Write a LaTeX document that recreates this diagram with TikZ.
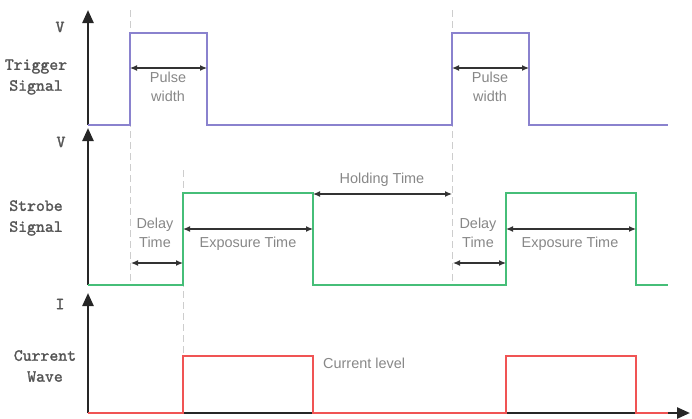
\documentclass[tikz,border=0pt]{standalone}
\usepackage{fontspec}
\setsansfont{Liberation Sans}
\newfontfamily\sigfont[FakeBold=1.6]{lmmono10-regular.otf}
\usepackage{tikz}
\usetikzlibrary{arrows.meta}
\definecolor{trgpurple}{RGB}{138,130,206}
\definecolor{strgreen}{RGB}{70,190,120}
\definecolor{curred}{RGB}{240,84,84}
\definecolor{anngray}{RGB}{135,135,135}
\definecolor{lblgray}{RGB}{85,85,85}
\definecolor{guidegray}{RGB}{205,205,205}

\begin{document}
\begin{tikzpicture}[x=1bp, y=-1bp,
  axis/.style={line width=2.4bp, black!85, -{Triangle[length=13bp,width=11bp]}},
  wave/.style={line width=1.6bp, line join=miter},
  guide/.style={guidegray, line width=0.9bp, dash pattern=on 7bp off 4bp},
  dim/.style={black!80, line width=1.2bp, {Latex[length=7bp,width=6bp]}-{Latex[length=7bp,width=6bp]}},
  ann/.style={font=\sffamily\fontsize{14.5}{19}\selectfont, text=anngray, align=center, inner sep=0pt},
  sig/.style={font=\sigfont\fontsize{17}{21}\selectfont, text=lblgray, align=center, inner sep=0pt}]
\useasboundingbox (0,0) rectangle (692,418);

% ================= levels and edges =================
% Pixel grid of the original: y grows downward. One low/high pair per lane.
\def\trLo{125} \def\trHi{33}
\def\stLo{285} \def\stHi{193}
\def\cuLo{413} \def\cuHi{356}
\def\eA{130} \def\eB{183} \def\eC{313} \def\eD{452} \def\eE{506} \def\eF{636}
\def\xEnd{668}

% ================= guide lines =================
\draw[guide] (\eA,10) -- (\eA,\stLo);
\draw[guide] (\eB,170) -- (\eB,\cuHi);
\draw[guide] (\eD,10) -- (\eD,\stLo);

% ================= axes =================
\coordinate (org) at (88,\cuLo);
\coordinate (tend) at (690,\cuLo);
\draw[axis] (88,\trLo) -- (88,10);
\draw[axis] (88,\stLo) -- (88,128);
\draw[axis] (org) -- (88,293);
\draw[axis] (org) -- (tend);

\node[sig] (vtrg) at (60,27) {V};
\node[sig] (vstr) at (61,142) {V};
\node[sig] (icur) at (60,304) {I};
\node[sig] (ltrg) at (36,77) {Trigger\\Signal};
\node[sig] (lstr) at (36,218) {Strobe\\Signal};
\node[sig] (lcur) at (45,366) {Current\\Wave};

% ================= waveforms =================
\draw[wave, trgpurple] (88,\trLo) -- (\eA,\trLo) -- (\eA,\trHi) -- (207,\trHi)
  -- (207,\trLo) -- (\eD,\trLo) -- (\eD,\trHi) -- (529,\trHi) -- (529,\trLo)
  -- (\xEnd,\trLo);
\draw[wave, strgreen] (88,\stLo) -- (\eB,\stLo) -- (\eB,\stHi) -- (\eC,\stHi)
  -- (\eC,\stLo) -- (\eE,\stLo) -- (\eE,\stHi) -- (\eF,\stHi) -- (\eF,\stLo)
  -- (\xEnd,\stLo);
\draw[wave, curred] (88,\cuLo) -- (\eB,\cuLo) -- (\eB,\cuHi) -- (\eC,\cuHi)
  -- (\eC,\cuLo) -- (\eE,\cuLo) -- (\eE,\cuHi) -- (\eF,\cuHi) -- (\eF,\cuLo)
  -- (\xEnd,\cuLo);

% ================= dimension arrows =================
\foreach \nm/\xa/\xb/\yy in {pwA/\eA/207/68, pwB/\eD/529/68,
                             dlA/131/\eB/263, dlB/453/\eE/263,
                             exA/\eB/\eC/229, exB/\eE/\eF/229,
                             hold/\eC/\eD/194} {
  \coordinate (\nm-l) at (\xa,\yy);
  \coordinate (\nm-r) at (\xb,\yy);
  \draw[dim] (\nm-l) -- (\nm-r);
}

\node[ann] (pwtA) at (168,87) {Pulse\\width};
\node[ann] (pwtB) at (490,87) {Pulse\\width};
\node[ann] (dltA) at (155,233) {Delay\\Time};
\node[ann] (dltB) at (478,233) {Delay\\Time};
\node[ann] (extA) at (248,244) {Exposure Time};
\node[ann] (extB) at (570,244) {Exposure Time};
\node[ann] (holdt) at (382,180) {Holding Time};
\node[ann, anchor=west] (curlv) at (323,363) {Current level};
\end{tikzpicture}
\end{document}
